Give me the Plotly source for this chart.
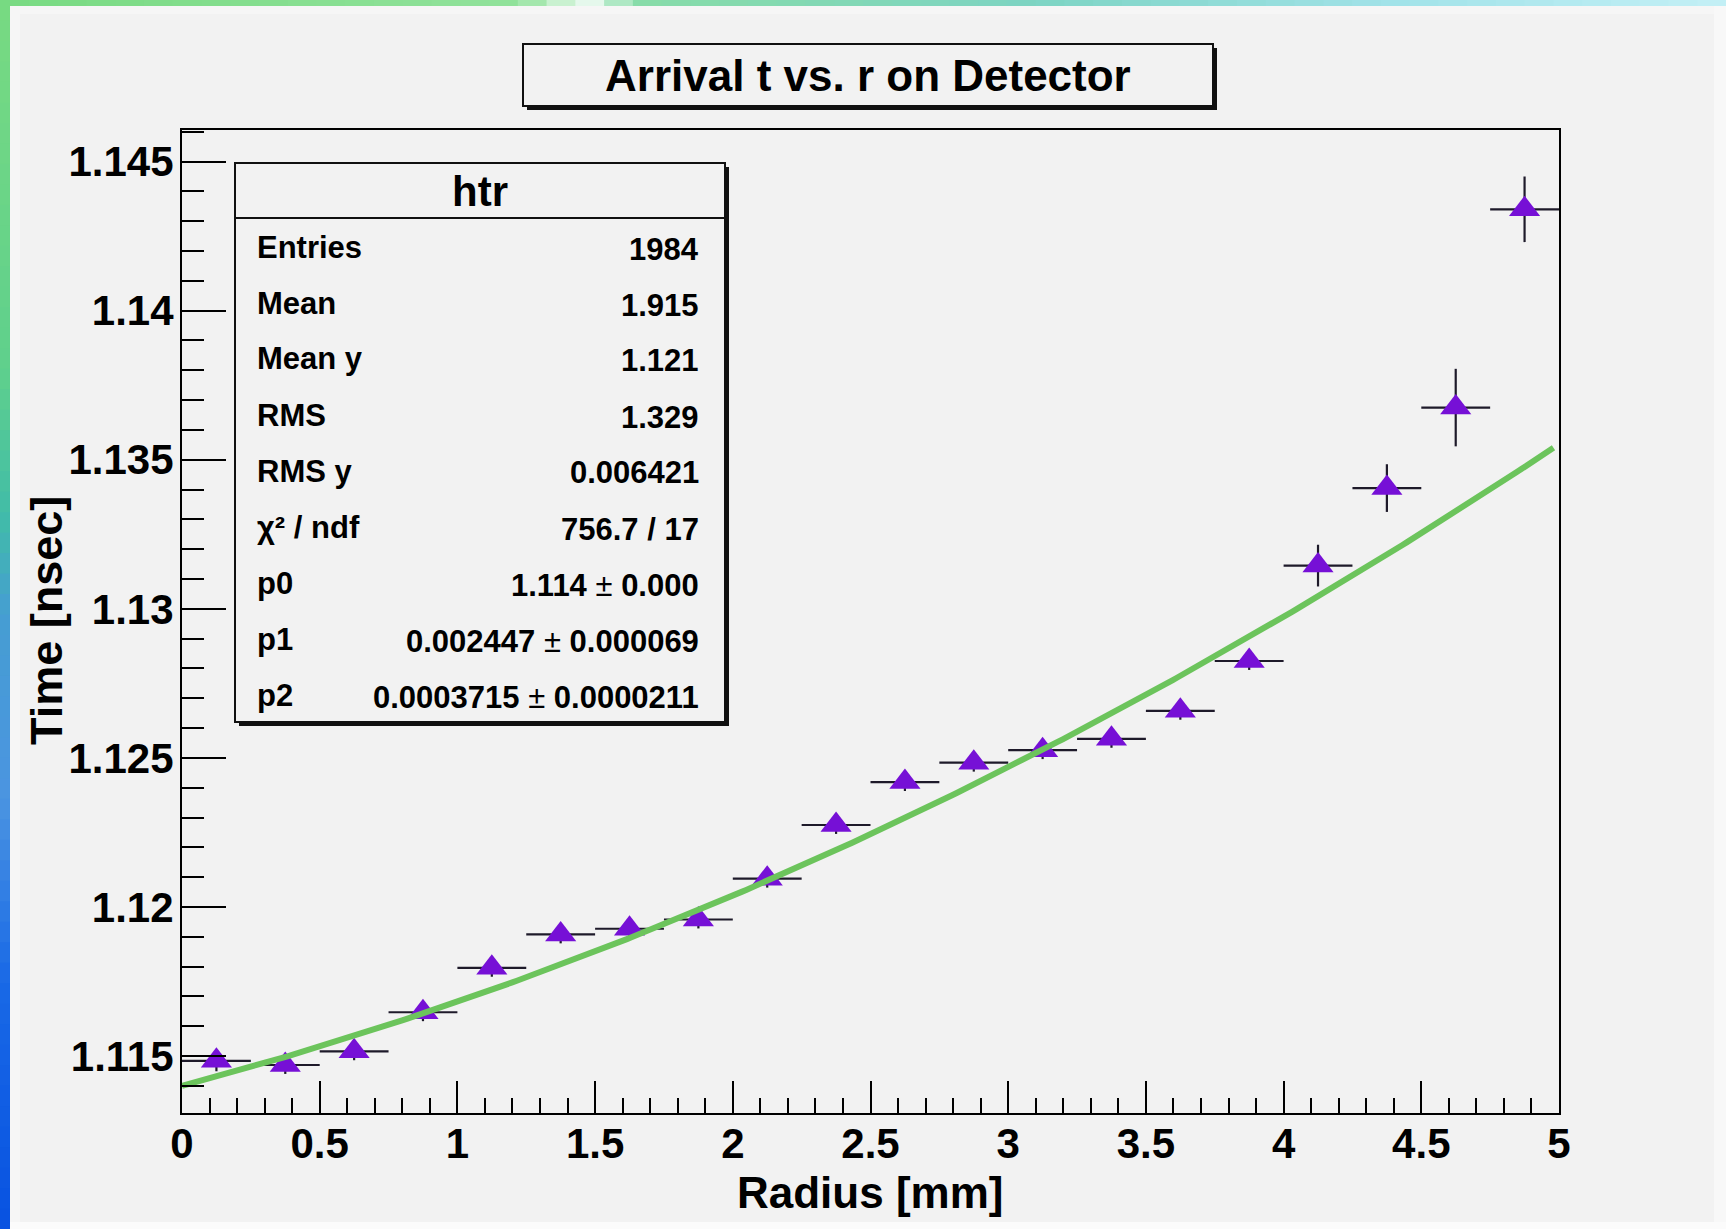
import numpy as np
import plotly.graph_objects as go

# ---------------- data ----------------
radius = [0.125, 0.375, 0.625, 0.875, 1.125, 1.375, 1.625, 1.875, 2.125, 2.375,
          2.625, 2.875, 3.125, 3.375, 3.625, 3.875, 4.125, 4.375, 4.625, 4.875]
time_ns = [1.11484, 1.11470, 1.11516, 1.11647, 1.11796, 1.11908, 1.11927, 1.11958,
           1.12095, 1.12275, 1.12419, 1.12484, 1.12526, 1.12564, 1.12658, 1.12825,
           1.13145, 1.13405, 1.13675, 1.14340]
radius_err = [0.125] * 20
time_err = [0.00035, 0.0003, 0.0003, 0.0003, 0.0003, 0.0003, 0.0003, 0.0003,
            0.0003, 0.0003, 0.0003, 0.0003, 0.0003, 0.0003, 0.0003, 0.0003,
            0.0007, 0.0008, 0.0013, 0.0011]

fit_params = [1.114, 0.002447, 0.0003715]   # p0, p1, p2 of pol2 fit
fit_range = [0.0, 4.98]

x_tick_vals = [0, 0.5, 1, 1.5, 2, 2.5, 3, 3.5, 4, 4.5, 5]
x_tick_text = ["0", "0.5", "1", "1.5", "2", "2.5", "3", "3.5", "4", "4.5", "5"]
y_tick_vals = [1.115, 1.12, 1.125, 1.13, 1.135, 1.14, 1.145]
y_tick_text = ["1.115", "1.12", "1.125", "1.13", "1.135", "1.14", "1.145"]

title_text = "Arrival t vs. r on Detector"
x_title = "Radius [mm]"
y_title = "Time [nsec]"

stats_name = "htr"
stats_labels = ["Entries", "Mean", "Mean y", "RMS", "RMS y", "χ² / ndf", "p0", "p1", "p2"]
stats_values = ["1984", "1.915", "1.121", "1.329", "0.006421", "756.7 / 17",
                ("1.114", "0.000"), ("0.002447", "0.000069"), ("0.0003715", "0.0000211")]

# ---------------- geometry helpers ----------------
W, H = 1726, 1229
L, R, T, B = 182, 167, 130, 116
PW, PH = W - L - R, H - T - B


def px(x):
    return (x - L) / PW


def py(y):
    return (H - B - y) / PH


FONT = "Liberation Sans, Arial, Helvetica, sans-serif"
BG = "#f2f2f2"

fig = go.Figure()

# data points with error bars
fig.add_trace(go.Scatter(
    x=radius, y=time_ns, mode="markers",
    marker=dict(symbol="triangle-up", size=27, color="#7610d6",
                line=dict(width=0)),
    error_x=dict(type="data", array=radius_err, color="#1e1a2a", thickness=2.2, width=0),
    error_y=dict(type="data", array=time_err, color="#1e1a2a", thickness=2.2, width=0),
    cliponaxis=False,
    hoverinfo="x+y",
))

# fit function
xf = np.linspace(fit_range[0], fit_range[1], 300)
yf = fit_params[0] + fit_params[1] * xf + fit_params[2] * xf ** 2
fig.add_trace(go.Scatter(x=xf, y=yf, mode="lines",
                         line=dict(color="#6cc45c", width=6), hoverinfo="skip"))

shapes = []
annotations = []


def rect(x0, y0, x1, y1, fill, line_color=None, lw=0, layer="above"):
    d = dict(type="rect", xref="paper", yref="paper",
             x0=px(x0), x1=px(x1), y0=py(y1), y1=py(y0),
             fillcolor=fill, layer=layer)
    if line_color:
        d["line"] = dict(color=line_color, width=lw)
    else:
        d["line"] = dict(width=0)
    shapes.append(d)


def lerp_colors(stops, t):
    for i in range(len(stops) - 1):
        t0, c0 = stops[i]
        t1, c1 = stops[i + 1]
        if t0 <= t <= t1:
            f = (t - t0) / (t1 - t0) if t1 > t0 else 0
            c = [int(round(c0[k] + (c1[k] - c0[k]) * f)) for k in range(3)]
            return "rgb(%d,%d,%d)" % tuple(c)
    return "rgb(%d,%d,%d)" % tuple(stops[-1][1])


# --- decorative outer frame (canvas border) ---
rect(1714, 0, W, H, "#f8f8f8", layer="below")
rect(0, 1222, W, H, "#fbfbfb", layer="below")
rect(10, 6, 20, 1222, "#f6f6f6", layer="below")
rect(10, 6, 1714, 14, "#f6f6f6", layer="below")

top_stops = [(0.0, (120, 218, 130)), (0.3, (145, 226, 155)), (0.34, (235, 250, 240)),
             (0.37, (135, 220, 168)), (0.6, (125, 212, 195)), (0.8, (160, 226, 232)),
             (1.0, (195, 240, 246))]
n = 60
for i in range(n):
    x0 = W * i / n
    x1 = W * (i + 1) / n + 1
    rect(x0, 0, x1, 6, lerp_colors(top_stops, (i + 0.5) / n), layer="above")

left_stops = [(0.0, (120, 218, 130)), (0.3, (95, 208, 140)), (0.42, (65, 188, 168)),
              (0.5, (70, 158, 210)), (0.65, (75, 148, 225)), (0.8, (25, 105, 230)),
              (1.0, (8, 82, 225))]
for i in range(n):
    y0 = H * i / n
    y1 = H * (i + 1) / n + 1
    rect(0, y0, 10, y1, lerp_colors(left_stops, (i + 0.5) / n), layer="above")

# --- title box ---
rect(527, 48, 1217, 110, "#111111")          # shadow
rect(523, 44, 1213, 106, BG, "#111111", 2)
annotations.append(dict(xref="paper", yref="paper", x=px(868), y=py(76),
                        xanchor="center", yanchor="middle", showarrow=False,
                        text="<b>%s</b>" % title_text,
                        font=dict(family=FONT, size=44, color="black")))

# --- stats box ---
sb_l, sb_t, sb_r, sb_b = 235, 163, 725, 722
rect(sb_l + 4, sb_t + 4, sb_r + 4, sb_b + 4, "#111111")   # shadow
rect(sb_l, sb_t, sb_r, sb_b, BG, "#111111", 2)
sep_y = 218
shapes.append(dict(type="line", xref="paper", yref="paper",
                   x0=px(sb_l), x1=px(sb_r), y0=py(sep_y), y1=py(sep_y),
                   line=dict(color="#111111", width=2), layer="above"))
annotations.append(dict(xref="paper", yref="paper", x=px((sb_l + sb_r) / 2), y=py(191),
                        xanchor="center", yanchor="middle", showarrow=False,
                        text="<b>%s</b>" % stats_name,
                        font=dict(family=FONT, size=42, color="black")))
row_h = (sb_b - sep_y) / len(stats_labels)
for i, (lab, val) in enumerate(zip(stats_labels, stats_values)):
    yc = sep_y + row_h * (i + 0.5) + 1
    annotations.append(dict(xref="paper", yref="paper", x=px(255), y=py(yc),
                            xanchor="left", yanchor="middle", showarrow=False,
                            text="<b>%s</b>" % lab,
                            font=dict(family=FONT, size=31, color="black")))
    if isinstance(val, tuple):
        txt = "<b>%s</b> ± <b>%s</b>" % val
    else:
        txt = "<b>%s</b>" % val
    annotations.append(dict(xref="paper", yref="paper", x=px(701), y=py(yc + 2),
                            xanchor="right", yanchor="middle", showarrow=False,
                            text=txt,
                            font=dict(family=FONT, size=31, color="black")))

# --- axis titles ---
annotations.append(dict(xref="paper", yref="paper", x=px(870), y=py(1192),
                        xanchor="center", yanchor="middle", showarrow=False,
                        text="<b>%s</b>" % x_title,
                        font=dict(family=FONT, size=44, color="black")))
annotations.append(dict(xref="paper", yref="paper", x=px(46), y=py(621),
                        xanchor="center", yanchor="middle", showarrow=False,
                        textangle=-90, text="<b>%s</b>" % y_title,
                        font=dict(family=FONT, size=45, color="black")))

fig.update_layout(
    width=W, height=H,
    margin=dict(l=L, r=R, t=T, b=B, pad=0),
    paper_bgcolor=BG, plot_bgcolor=BG,
    showlegend=False,
    shapes=shapes, annotations=annotations,
    xaxis=dict(range=[0, 5], tickmode="array", tickvals=x_tick_vals, ticktext=x_tick_text,
               ticks="inside", ticklen=32, tickwidth=2, tickcolor="black",
               minor=dict(tickmode="linear", tick0=0, dtick=0.1, ticks="inside",
                          ticklen=15, tickwidth=2, tickcolor="black", showgrid=False),
               showline=True, linecolor="black", linewidth=2, mirror=True,
               showgrid=False, zeroline=False, ticklabelstandoff=-7,
               tickfont=dict(family=FONT, size=42, color="black", weight="bold")),
    yaxis=dict(range=[1.11309, 1.14606], tickmode="array", tickvals=y_tick_vals,
               ticktext=y_tick_text,
               ticks="inside", ticklen=44, tickwidth=2, tickcolor="black",
               minor=dict(tickmode="linear", tick0=1.115, dtick=0.001, ticks="inside",
                          ticklen=22, tickwidth=2, tickcolor="black", showgrid=False),
               showline=True, linecolor="black", linewidth=2, mirror=True,
               showgrid=False, zeroline=False, ticklabelstandoff=-2,
               tickfont=dict(family=FONT, size=42, color="black", weight="bold")),
)

fig.write_html("out.html",
               config={"displayModeBar": False},
               post_script="document.body.style.margin='0px';"
                           "document.body.style.overflow='hidden';")
